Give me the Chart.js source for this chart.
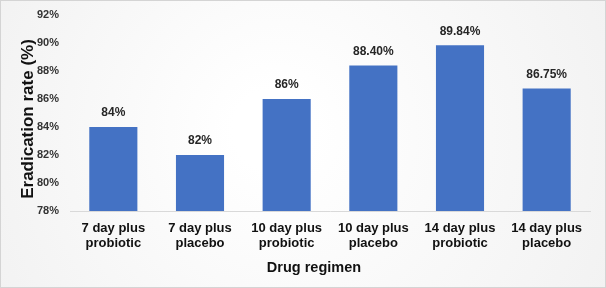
<!DOCTYPE html>
<html>
<head>
<meta charset="utf-8">
<script src="https://cdn.jsdelivr.net/npm/chart.js@4.4.1/dist/chart.umd.min.js"></script>
<style>
  html, body { margin: 0; padding: 0; background: #ffffff; }
  #wrap { width: 606px; height: 288px; position: relative; }
</style>
</head>
<body>
<div id="wrap"><canvas id="c" width="606" height="288"></canvas></div>
<script>
const categories = [
  ["7 day plus", "probiotic"],
  ["7 day plus", "placebo"],
  ["10 day plus", "probiotic"],
  ["10 day plus", "placebo"],
  ["14 day plus", "probiotic"],
  ["14 day plus", "placebo"]
];
const eradicationRates = [84, 82, 86, 88.40, 89.84, 86.75];
const valueLabels = ["84%", "82%", "86%", "88.40%", "89.84%", "86.75%"];
const yMin = 78, yMax = 92, yStep = 2;
const xTitle = "Drug regimen";
const yTitle = "Eradication rate (%)";

const FONT = "'Liberation Sans', Arial, sans-serif";

const bgPlugin = {
  id: 'bg',
  beforeDraw(chart) {
    const { ctx, width, height } = chart;
    ctx.save();
    ctx.fillStyle = '#ffffff';
    ctx.fillRect(0, 0, width, height);
    const g = ctx.createRadialGradient(width * 0.45, height * 0.45, 40, width * 0.5, height * 0.5, width * 0.6);
    g.addColorStop(0, '#ffffff');
    g.addColorStop(1, '#f1f1f1');
    ctx.fillStyle = g;
    ctx.fillRect(1, 1, width - 2, height - 2);
    ctx.strokeStyle = '#d4d4d4';
    ctx.lineWidth = 1;
    ctx.strokeRect(0.5, 0.5, width - 1, height - 1);
    ctx.restore();
  }
};

const labelPlugin = {
  id: 'valueLabels',
  afterDatasetsDraw(chart) {
    const { ctx } = chart;
    const meta = chart.getDatasetMeta(0);
    ctx.save();
    ctx.font = "bold 12px " + FONT;
    ctx.fillStyle = '#262626';
    ctx.textAlign = 'center';
    ctx.textBaseline = 'middle';
    meta.data.forEach((bar, i) => {
      ctx.fillText(valueLabels[i], bar.x, bar.y - 14);
    });
    // axis titles
    ctx.fillStyle = '#111111';
    ctx.font = "bold 14.5px " + FONT;
    ctx.fillText(xTitle, 314, 268);
    ctx.translate(28, 119);
    ctx.rotate(-Math.PI / 2);
    ctx.font = "bold 17px " + FONT;
    ctx.fillText(yTitle, 0, 0);
    ctx.restore();
  }
};

new Chart(document.getElementById('c'), {
  type: 'bar',
  data: {
    labels: categories,
    datasets: [{
      data: eradicationRates,
      backgroundColor: '#4472C4',
      borderWidth: 0,
      categoryPercentage: 1,
      barPercentage: 0.555
    }]
  },
  options: {
    responsive: false,
    animation: false,
    layout: { padding: { top: 15, right: 16, left: 14, bottom: 0 } },
    plugins: { legend: { display: false }, tooltip: { enabled: false } },
    scales: {
      x: {
        grid: { display: false, drawTicks: false },
        border: { display: true, color: '#d9d9d9', width: 1 },
        ticks: {
          color: '#111111',
          font: { family: FONT, size: 13, weight: 'bold', lineHeight: 1.15 },
          padding: 10,
          maxRotation: 0,
          autoSkip: false
        },
        afterFit(scale) { scale.height = 77; scale.paddingLeft = 0; scale.paddingRight = 0; }
      },
      y: {
        min: yMin,
        max: yMax,
        grid: { display: false, drawTicks: false },
        border: { display: false },
        ticks: {
          stepSize: yStep,
          color: '#333333',
          font: { family: FONT, size: 11, weight: 'bold' },
          padding: 11,
          callback: v => v + '%'
        },
        afterFit(scale) { scale.width = 56; scale.paddingTop = 0; scale.paddingBottom = 0; }
      }
    }
  },
  plugins: [bgPlugin, labelPlugin]
});
</script>
</body>
</html>
